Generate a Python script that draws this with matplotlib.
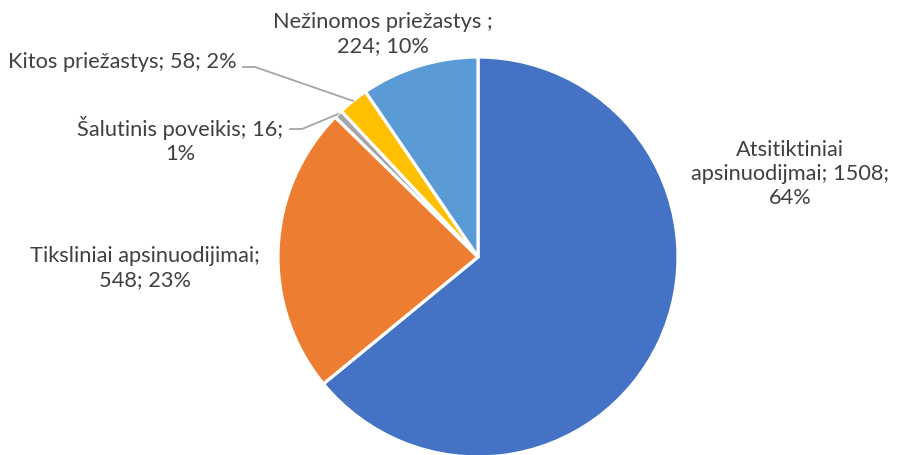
import numpy as np
import matplotlib.pyplot as plt

# data
categories = ['Atsitiktiniai\napsinuodijmai', 'Tiksliniai apsinuodijimai',
              'Šalutinis poveikis', 'Kitos priežastys', 'Nežinomos priežastys ']
values = [1508, 548, 16, 58, 224]
percents = ['64%', '23%', '1%', '2%', '10%']
colors = ['#4472C4', '#ED7D31', '#A5A5A5', '#FFC000', '#5B9BD5']

W, H = 897, 456
fig = plt.figure(figsize=(W / 100, H / 100), dpi=100)
ax = fig.add_axes([0, 0, 1, 1])

cx, cy, r = 478, 258, 200
# y axis is inverted below: startangle -90 is the top, counterclock is clockwise on screen
wedges, _ = ax.pie(values, colors=colors, startangle=-90, counterclock=True,
                   center=(cx, cy), radius=r,
                   wedgeprops=dict(edgecolor='white', linewidth=2.3))
ax.set_xlim(0, W)
ax.set_ylim(H, 0)
ax.set_aspect('equal')
ax.axis('off')

txt = dict(fontsize=15.7, color='#404040', family=['Lato', 'DejaVu Sans'],
           linespacing=1.28)
ax.text(790, 174, '%s; %d;\n%s' % (categories[0], values[0], percents[0]),
        ha='center', va='center', **txt)
ax.text(145, 268, '%s;\n%d; %s' % (categories[1], values[1], percents[1]),
        ha='center', va='center', **txt)
ax.text(180, 140, '%s; %d;\n%s' % (categories[2], values[2], percents[2]),
        ha='center', va='center', **txt)
ax.text(237, 62, '%s; %d; %s' % (categories[3], values[3], percents[3]),
        ha='right', va='center', **txt)
ax.text(383, 34, '%s;\n%d; %s' % (categories[4], values[4], percents[4]),
        ha='center', va='center', **txt)

# leader lines to the small slices
total = sum(values)
cum = np.cumsum([0] + values)
def edge_point(i):
    mid = -90 + 360 * (cum[i] + values[i] / 2) / total
    a = np.deg2rad(mid)
    return cx + r * np.cos(a), cy + r * np.sin(a)

x2, y2 = edge_point(2)
ax.plot([290, 302, x2], [130, 130, y2], color='#A5A5A5', lw=1.3)
x3, y3 = edge_point(3)
ax.plot([243, 255, x3], [68, 68, y3], color='#A5A5A5', lw=1.3)

fig.savefig('out.png', dpi=100)
plt.close(fig)
